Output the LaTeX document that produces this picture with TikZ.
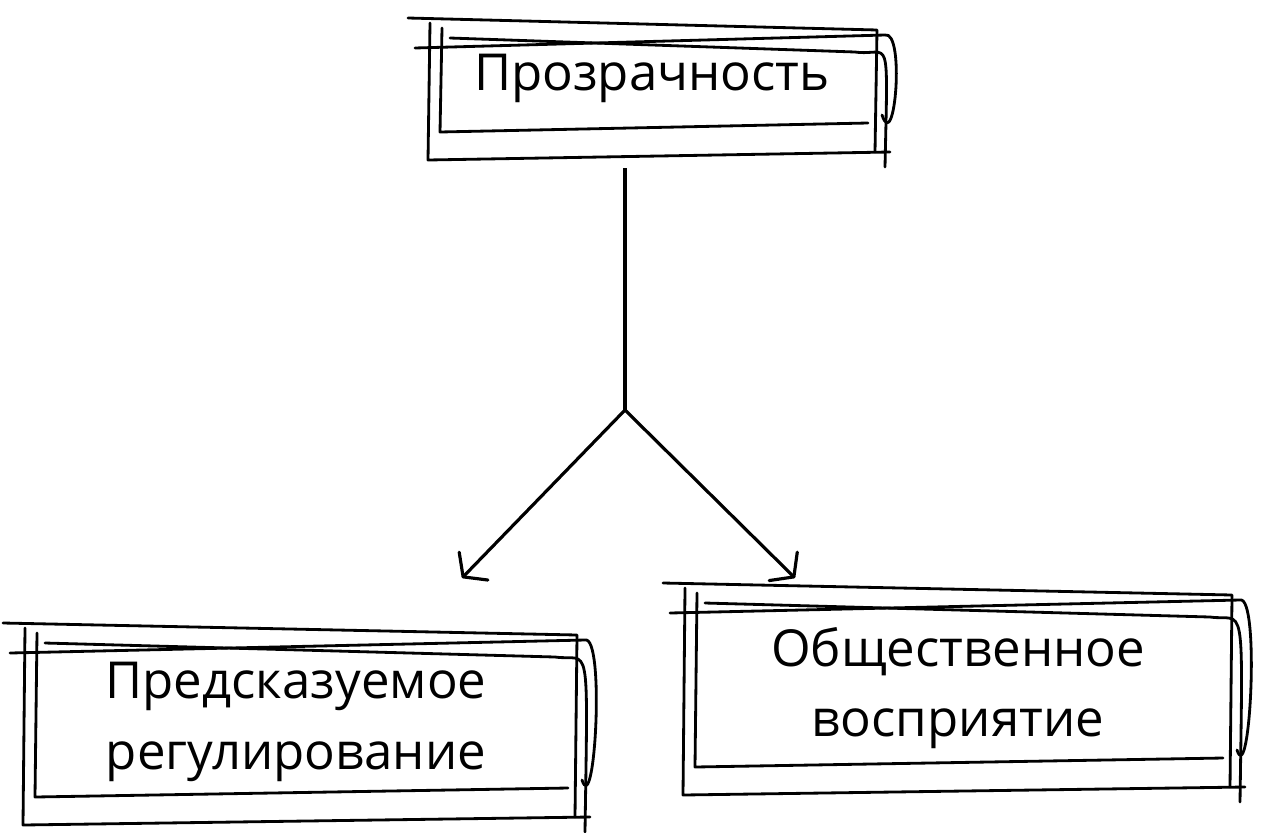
\documentclass[tikz,border=0pt]{standalone}
\usepackage{fontspec}
\setmainfont{Open Sans}
\usetikzlibrary{arrows.meta}

\tikzset{
  label/.style={font=\fontsize{29}{40}\selectfont, align=center},
  sketch/.style={line width=1.6pt, line join=round, line cap=round},
  link/.style={line width=1.8pt, -{Straight Barb[length=3mm,width=8mm,round]}}
}

% rough hand drawn frame, corners in pixels: x1,y1,x2,y2
\newcommand{\roughbox}[4]{
  \draw[sketch] (#1-10,#2+8) -- (#3+25,#2-5) .. controls (#3+45,#2-10) and (#3+35,#4+15) .. (#3+22,#4-25);
  \draw[sketch] (#1+5,#2-17) -- (#1+3,#4+20) -- (#3+30,#4+12);
  \draw[sketch] (#1+17,#2-12) -- (#1+15,#4-8) -- (#3+8,#4-17);
  \draw[sketch] (#1-17,#2-22) -- (#3+17,#2-10) -- (#3+15,#4+12);
  \draw[sketch] (#1+25,#2-2) -- (#3-5,#2+12) .. controls (#3+30,#2+17) and (#3+28,#2-15) .. (#3+25,#4+27);
}

\begin{document}
\begin{tikzpicture}[x=0.02cm, y=-0.02cm]
\useasboundingbox (0,0) rectangle (1263,832);

\roughbox{425}{40}{860}{140}
\node[label] (top) at (652,78) {Прозрачность};

\roughbox{20}{645}{560}{805}
\node[label] (left) at (296,722) {Предсказуемое\\регулирование};

\roughbox{680}{605}{1215}{775}
\node[label] (right) at (958,688) {Общественное\\восприятие};

\coordinate (stem) at (625,168);
\coordinate (fork) at (625,410);
\coordinate (lend) at (462,578);
\coordinate (rend) at (795,578);

\draw[line width=1.8pt] (stem) -- (fork);
\draw[link] (fork) -- (lend);
\draw[link] (fork) -- (rend);
\end{tikzpicture}
\end{document}
